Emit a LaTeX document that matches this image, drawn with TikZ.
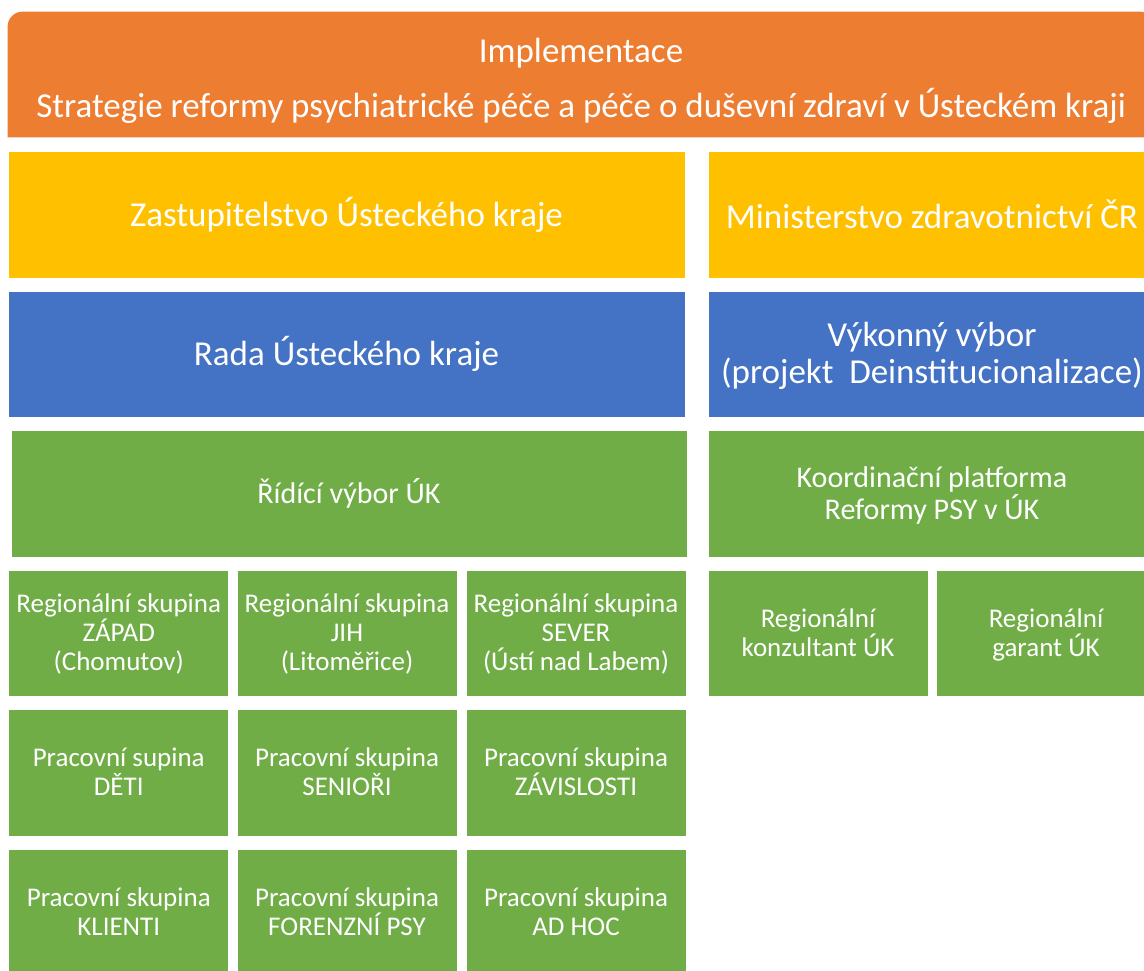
\documentclass[tikz,border=0pt]{standalone}
\usepackage{fontspec}
\setmainfont{Carlito}
\usetikzlibrary{backgrounds}
\definecolor{orangeC}{HTML}{ED7D31}
\definecolor{yellowC}{HTML}{FFC000}
\definecolor{blueC}{HTML}{4472C4}
\definecolor{greenC}{HTML}{70AD47}
\newcommand\topS{\rule{0pt}{0.9em}}
\newcommand\botS{\rule[-0.26em]{0pt}{0.26em}}
\newcommand\nolsk{\lineskiplimit=-100pt\relax}
\tikzset{
  box/.style={rectangle, draw=white, line width=0.8pt, text=white, align=center, inner sep=0pt},
  big/.style={box, font=\fontsize{35}{37}\selectfont\nolsk},
  mid/.style={box, font=\fontsize{30}{32}\selectfont\nolsk},
  small/.style={box, fill=greenC, minimum width=220pt, font=\fontsize{27}{29}\selectfont\nolsk},
}
\begin{document}
\begin{tikzpicture}[x=1pt,y=-1pt]
\useasboundingbox (0,0) rectangle (1144,970);
% title
\node[big, draw=none, minimum width=1146pt, minimum height=126pt] (title) at (581,75)
  {\rule{0pt}{\dimexpr0.9em+7pt\relax}Implementace\\[18pt]Strategie reformy psychiatrické péče a péče o duševní zdraví v Ústeckém kraji\botS};
\begin{pgfonlayer}{background}
\fill[orangeC] ([yshift=1pt]title.south west) -- ([yshift=-15pt]title.north west)
  arc[start angle=180,end angle=90,radius=15pt] -- ([xshift=-15pt]title.north east)
  arc[start angle=90,end angle=0,radius=15pt] -- ([yshift=1pt]title.south east) -- cycle;
\end{pgfonlayer}
% yellow
\node[big, fill=yellowC, minimum width=677pt, minimum height=127pt] (zast) at (346.5,214.5) {Zastupitelstvo Ústeckého kraje};
\node[big, fill=yellowC, minimum width=448pt, minimum height=127pt] (min) at (932,214.5) {Ministerstvo zdravotnictví ČR};
% blue
\node[big, fill=blueC, minimum width=677pt, minimum height=126pt] (rada) at (346.5,354) {Rada Ústeckého kraje};
\node[big, fill=blueC, minimum width=448pt, minimum height=126pt] (vyk) at (932,354) {\topS Výkonný výbor\\(projekt\ \ Deinstitucionalizace)\botS};
% green large
\node[mid, fill=greenC, minimum width=676pt, minimum height=127pt] (rid) at (349,493.5) {Řídící výbor ÚK};
\node[mid, fill=greenC, minimum width=448pt, minimum height=127pt] (koord) at (932,493.5) {\topS Koordinační platforma\\Reformy PSY v ÚK\botS};
% row 1
\node[small, minimum height=126pt] (r11) at (118.75,633) {\topS Regionální skupina\\ZÁPAD\\(Chomutov)\botS};
\node[small, minimum height=126pt] (r12) at (347,633) {\topS Regionální skupina\\JIH\\(Litoměřice)\botS};
\node[small, minimum height=126pt] (r13) at (576,633) {\topS Regionální skupina\\SEVER\\(Ústí nad Labem)\botS};
\node[small, minimum height=126pt] (r14) at (818,633) {\topS Regionální\\konzultant ÚK\botS};
\node[small, minimum height=126pt] (r15) at (1046,633) {\topS Regionální\\garant ÚK\botS};
% row 2
\node[small, minimum height=127pt] (r21) at (118.75,772.5) {\topS Pracovní supina\\DĚTI\botS};
\node[small, minimum height=127pt] (r22) at (347,772.5) {\topS Pracovní skupina\\SENIOŘI\botS};
\node[small, minimum height=127pt] (r23) at (576,772.5) {\topS Pracovní skupina\\ZÁVISLOSTI\botS};
% row 3
\node[small, minimum height=127pt] (r31) at (118.75,912.5) {\topS Pracovní skupina\\KLIENTI\botS};
\node[small, minimum height=127pt] (r32) at (347,912.5) {\topS Pracovní skupina\\FORENZNÍ PSY\botS};
\node[small, minimum height=127pt] (r33) at (576,912.5) {\topS Pracovní skupina\\AD HOC\botS};
\end{tikzpicture}
\end{document}
